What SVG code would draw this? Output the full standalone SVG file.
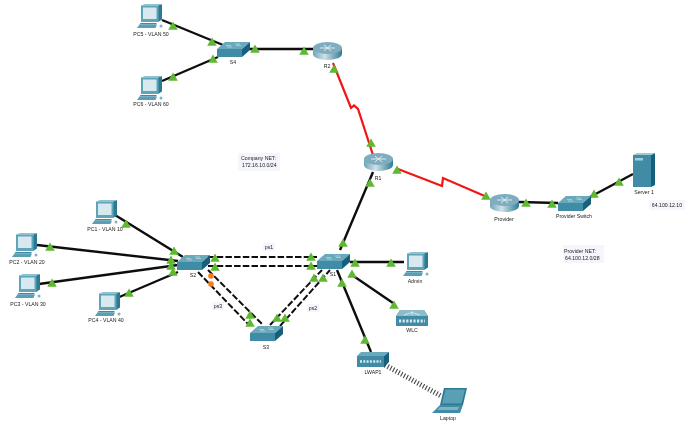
<svg xmlns="http://www.w3.org/2000/svg" width="692" height="424" viewBox="0 0 692 424">
<style>
text{font-family:"Liberation Sans",Arial,sans-serif;font-size:5.2px;fill:#222;text-anchor:middle}
.note{text-anchor:start}
.k{fill:none;stroke:#111;stroke-width:2.400}
.d{fill:none;stroke:#111;stroke-width:2;stroke-dasharray:6.500 2.200}
.r{fill:none;stroke:#f01414;stroke-width:2.200}
.w{fill:none;stroke:#444;stroke-width:5;stroke-dasharray:1.100 2}
.bg{fill:#f5f6fd}
</style>
<defs>
<filter id="soft" x="0" y="0" width="100%" height="100%"><feGaussianBlur stdDeviation="0.35"/></filter>
<linearGradient id="rg" x1="0" x2="1" y1="0" y2="0"><stop offset="0" stop-color="#6fa5b9"/><stop offset=".4" stop-color="#cfe0e6"/><stop offset="1" stop-color="#2f7d97"/></linearGradient>
<path id="t" d="M0-4.600 4.800 3.800H-4.800Z" fill="#5fb833"/>
<g id="pc">
<path d="M21 1.500 25 0V15.500L21 18Z" fill="#2a7a94"/>
<path d="M4 1.500H21.500L25 0H8Z" fill="#8fc0d0"/>
<rect x="4" y="1.500" width="17.500" height="16.500" fill="#5fa5ba"/>
<rect x="6" y="3.500" width="13.500" height="11.500" fill="#d8e8ef"/>
<path d="M3.500 19H20L18.500 20.500H2.500Z" fill="#3f8aa3"/>
<path d="M2.500 20.500H20L18.500 24H0Z" fill="#5a9fb4"/>
<circle cx="24" cy="22" r="1.500" fill="#7fb3c4"/>
</g>
<g id="sw">
<path d="M8 0H33L25 7H0Z" fill="#6aa8bc"/>
<path d="M0 7H25V15H0Z" fill="#3f8ca6"/>
<path d="M25 7 33 0V8L25 15Z" fill="#17617d"/>
<path d="M9 3.500H14M18 2H23M10 5H15M19 3.500H24" stroke="#cfe3ea" stroke-width=".6" fill="none"/>
</g>
<g id="rt">
<path d="M0 6V12A14.500 6 0 0 0 29 12V6Z" fill="url(#rg)"/>
<ellipse cx="14.500" cy="6" rx="14.500" ry="6" fill="#7fadbf"/>
<path d="M7 6H22M11 3 18 9M18 3 11 9" stroke="#eaf3f6" stroke-width=".9" fill="none"/>
</g>
<g id="srv">
<path d="M18 2 22 0V32L18 34Z" fill="#17617d"/>
<path d="M0 2H18L22 0H4Z" fill="#a2c8d5"/>
<rect y="2" width="18" height="32" fill="#3f8ca6"/>
<rect x="2" y="5" width="8" height="2.500" fill="#a9cbd7"/>
</g>
<g id="ap">
<path d="M4 0H32L27 4H0Z" fill="#6aa8bc"/>
<rect y="4" width="27" height="11" fill="#3f8ca6"/>
<path d="M27 4 32 0V10L27 15Z" fill="#17617d"/>
<path d="M3 9.500H24" stroke="#d8e8ef" stroke-width="2.600" stroke-dasharray="2 1.300" fill="none"/>
</g>
<g id="wlc">
<path d="M4 0H28L32 6V16H0V6Z" fill="#3f8ca6"/>
<path d="M4 0H28L32 6H0Z" fill="#8fbccb"/>
<path d="M16 1V5.500M8 5 16 2.500 24 5" stroke="#eaf3f6" stroke-width=".7" fill="none"/>
<path d="M3 11H29" stroke="#d8e8ef" stroke-width="2.800" stroke-dasharray="2.200 1.400" fill="none"/>
</g>
<g id="lap">
<path d="M12 0H35L31 17H8Z" fill="#2a7a94"/>
<path d="M13.500 1.500H33L29.500 15.500H10Z" fill="#5a9fb4"/>
<path d="M8 17H31L28 25H0Z" fill="#3f8ca6"/>
<path d="M8 19H27L25.500 22H5Z" fill="#7fb3c4"/>
</g>
</defs>
<rect width="692" height="424" fill="#fff"/>
<g filter="url(#soft)">
<g id="connectors">
<path class="k" d="M162 20 223 45M162 81 218 57M250 49H313"/>
<path class="r" d="M333 63 351 108 354 105.500 358 109 373 155"/>
<path class="r" d="M398 169 442 186 443 178 487 197"/>
<path class="k" d="M519 202 558 203M590 197 633 174M373 172 340 250"/>
<path class="k" d="M115 215 183 257M37 245 178 261M39 284 178 265M117 298 178 272"/>
<path class="d" d="M208 257H317M208 266H317"/>
<path class="d" d="M198 272 248 324M208 270 263 325"/>
<path class="d" d="M270 325 322 270M280 326 330 270"/>
<path class="k" d="M350 262H404M352 275 393 303M337 270 371 352"/>
<path class="w" d="M385 365 441 396"/>
<g>
<use href="#t" x="173" y="26"/><use href="#t" x="212" y="42"/><use href="#t" x="213" y="59"/><use href="#t" x="173" y="77"/>
<use href="#t" x="255" y="49"/><use href="#t" x="304" y="51"/><use href="#t" x="334" y="69"/><use href="#t" x="371" y="143"/>
<use href="#t" x="397" y="170"/><use href="#t" x="486" y="196"/><use href="#t" x="526" y="203"/><use href="#t" x="552" y="204"/>
<use href="#t" x="594" y="194"/><use href="#t" x="619" y="182"/><use href="#t" x="370" y="183"/><use href="#t" x="343" y="243"/>
<use href="#t" x="126" y="224"/><use href="#t" x="50" y="247"/><use href="#t" x="52" y="283"/><use href="#t" x="129" y="293"/>
<use href="#t" x="174" y="251"/><use href="#t" x="171" y="260"/><use href="#t" x="171" y="266"/><use href="#t" x="173" y="272"/>
<use href="#t" x="215" y="258"/><use href="#t" x="215" y="267"/><use href="#t" x="311" y="257"/><use href="#t" x="311" y="266"/>
<use href="#t" x="250" y="315"/><use href="#t" x="250" y="323"/><use href="#t" x="277" y="318"/><use href="#t" x="285" y="318"/>
<use href="#t" x="314" y="278"/><use href="#t" x="323" y="278"/><use href="#t" x="355" y="263"/><use href="#t" x="391" y="263"/>
<use href="#t" x="352" y="274"/><use href="#t" x="342" y="283"/><use href="#t" x="394" y="305"/><use href="#t" x="365" y="340"/>
<circle cx="211" cy="276" r="2.800" fill="#f57c14"/><circle cx="211" cy="284" r="2.800" fill="#f57c14"/>
</g>
</g>
<g id="pc5"><use href="#pc" x="137" y="4"/><text x="151" y="36">PC5 - VLAN 50</text></g>
<g id="pc6"><use href="#pc" x="137" y="76"/><text x="151" y="106">PC6 - VLAN 60</text></g>
<g id="s4"><use href="#sw" x="217" y="42"/><text x="233" y="64">S4</text></g>
<g id="r2"><use href="#rt" x="313" y="42"/><text x="327" y="68">R2</text></g>
<g id="r1"><use href="#rt" x="364" y="153"/><text x="378" y="180">R1</text></g>
<g id="provider"><use href="#rt" x="490" y="194"/><text x="504" y="221">Provider</text></g>
<g id="provider-switch"><use href="#sw" x="558" y="196"/><text x="574" y="218">Provider Switch</text></g>
<g id="server1"><use href="#srv" x="633" y="153"/><text x="644" y="194">Server 1</text></g>
<g id="pc1"><use href="#pc" x="92" y="200"/><text x="105" y="231">PC1 - VLAN 10</text></g>
<g id="pc2"><use href="#pc" x="12" y="233"/><text x="27" y="264">PC2 - VLAN 20</text></g>
<g id="pc3"><use href="#pc" x="15" y="274"/><text x="28" y="306">PC3 - VLAN 30</text></g>
<g id="pc4"><use href="#pc" x="95" y="292"/><text x="106" y="322">PC4 - VLAN 40</text></g>
<g id="s2"><use href="#sw" x="177" y="255"/><text x="193" y="277">S2</text></g>
<g id="s1"><use href="#sw" x="317" y="254"/><text x="333" y="276">S1</text></g>
<g id="s3"><use href="#sw" x="250" y="326"/><text x="266" y="349">S3</text></g>
<g id="admin"><use href="#pc" x="403" y="252"/><text x="415" y="283">Admin</text></g>
<g id="wlc1"><use href="#wlc" x="396" y="310"/><text x="412" y="332">WLC</text></g>
<g id="lwap1"><use href="#ap" x="357" y="352"/><text x="373" y="374">LWAP1</text></g>
<g id="laptop"><use href="#lap" x="432" y="388"/><text x="448" y="420">Laptop</text></g>
<g id="labels">
<rect class="bg" x="238" y="153" width="42" height="18"/>
<text class="note" x="241" y="160">Company NET:</text><text class="note" x="242" y="167">172.16.10.0/24</text>
<rect class="bg" x="563" y="245" width="41" height="18"/>
<text class="note" x="564" y="253">Provider NET:</text><text class="note" x="565" y="260">64.100.12.0/28</text>
<rect class="bg" x="649" y="200" width="36" height="10"/>
<text x="667" y="207">64.100.12.10</text>
<rect class="bg" x="263" y="243" width="12" height="8"/><text x="269" y="249">ps1</text>
<rect class="bg" x="307" y="304" width="12" height="8"/><text x="313" y="310">ps2</text>
<rect class="bg" x="212" y="302" width="12" height="8"/><text x="218" y="308">ps3</text>
</g>
</g>
</svg>
